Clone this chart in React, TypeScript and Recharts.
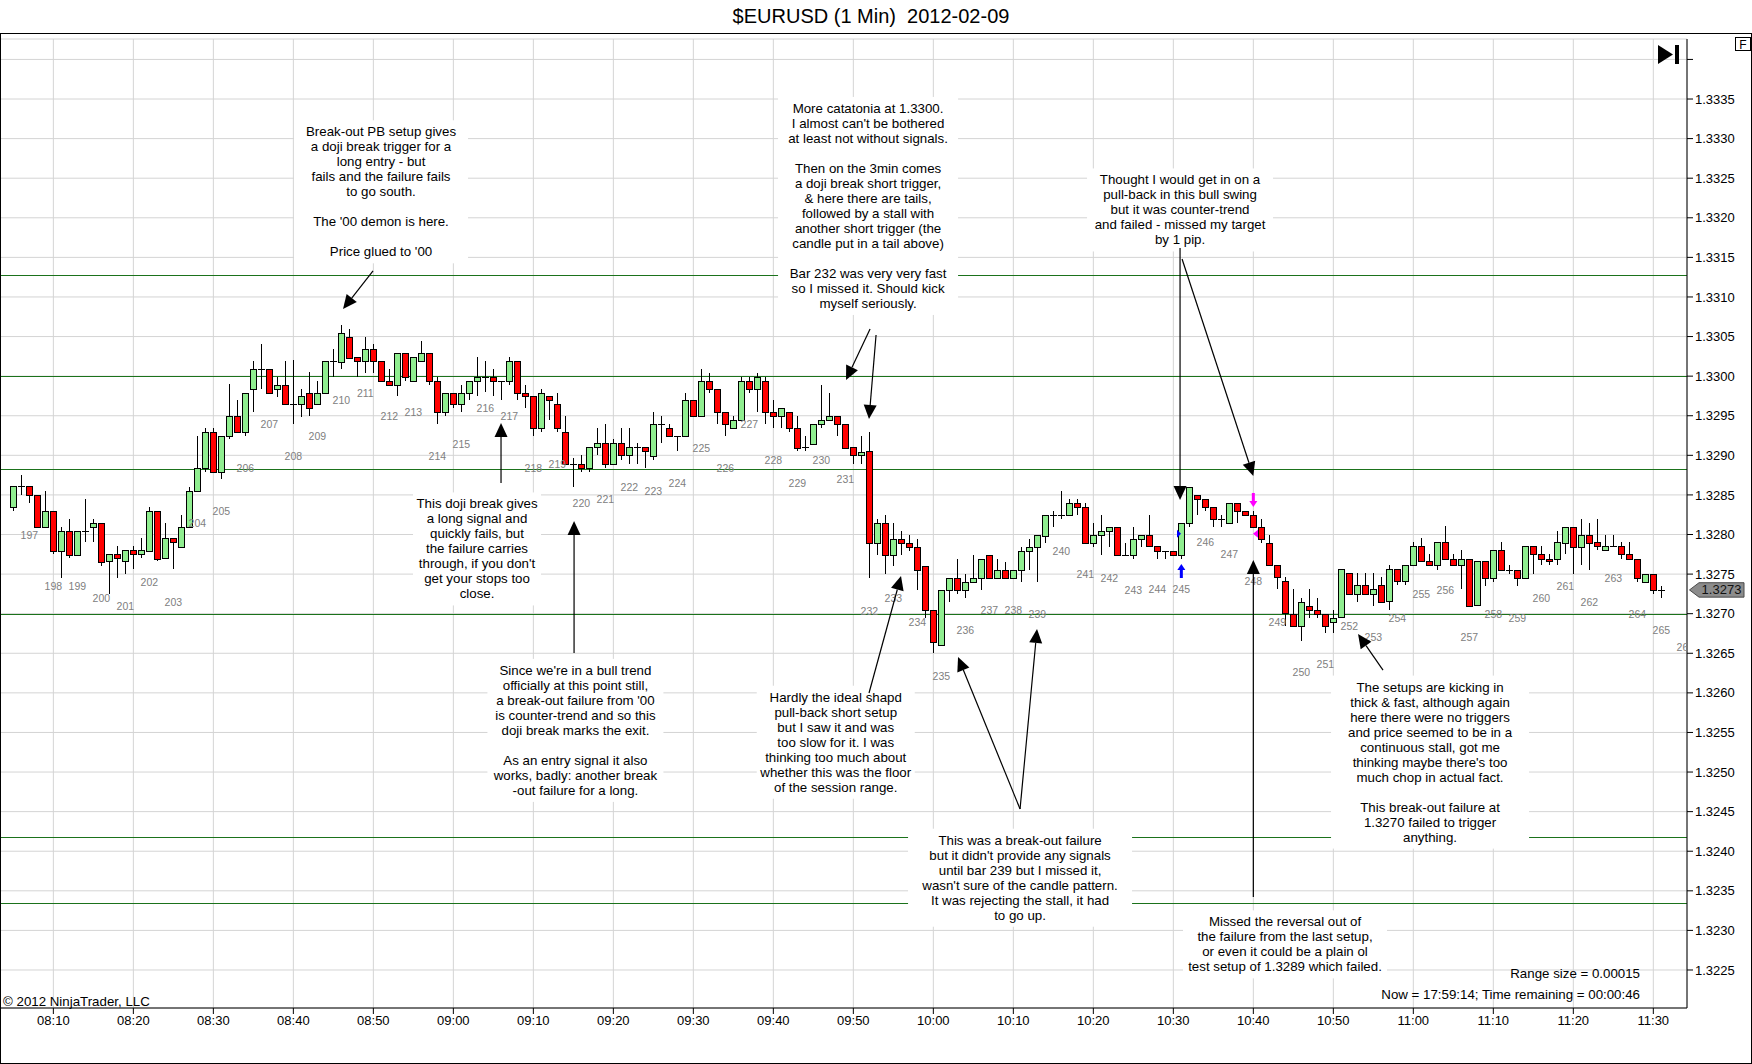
import React from "react";
import {
  Bar,
  CartesianGrid,
  ComposedChart,
  ReferenceDot,
  ReferenceLine,
  Scatter,
  XAxis,
  YAxis,
} from "recharts";

const FONT = '"Liberation Sans", Arial, sans-serif';
const UP = "#90ee90";
const DOWN = "#ff0000";
const LEVEL = "#1b721b";

// 1-minute bars, first bar at 08:05, one bar per minute
const FIRST_BAR_TIME = "08:05";

const opens = [
  1.32835, 1.32861, 1.32861, 1.3285, 1.3281,
  1.3283, 1.3278, 1.32805, 1.32775, 1.32805, 1.3281, 1.32815, 1.32766, 1.32775, 1.32766,
  1.3278, 1.32775, 1.3278, 1.3283, 1.3277, 1.32795, 1.32785, 1.3281, 1.32855, 1.32884,
  1.3293, 1.32879, 1.32925, 1.3295, 1.3293, 1.32984, 1.33009, 1.33009, 1.32984, 1.32989,
  1.32965, 1.32965, 1.32979, 1.32965, 1.32979, 1.33019, 1.33019, 1.3305, 1.33024, 1.33019,
  1.33034, 1.33019, 1.32994, 1.32989, 1.33029, 1.32994, 1.33019, 1.33029, 1.32994, 1.32955,
  1.32979, 1.32965, 1.32979, 1.32994, 1.32999, 1.32999, 1.32994, 1.32994, 1.33019, 1.32979,
  1.32975, 1.32935, 1.32975, 1.32965, 1.3293, 1.32889, 1.32889, 1.32884, 1.3291, 1.32915,
  1.32889, 1.32915, 1.329, 1.3291, 1.3291, 1.329, 1.3294, 1.32935, 1.32925, 1.32925,
  1.3297, 1.3295, 1.32994, 1.32984, 1.32955, 1.32935, 1.32945, 1.32994, 1.32984, 1.32994,
  1.32955, 1.3295, 1.32955, 1.32935, 1.3291, 1.32915, 1.3294, 1.32945, 1.3295, 1.3294,
  1.3291, 1.329, 1.32905, 1.32789, 1.32814, 1.32774, 1.32794, 1.32789, 1.32784, 1.3276,
  1.32705, 1.3266, 1.3273, 1.32745, 1.3273, 1.3274, 1.32745, 1.32774, 1.32745, 1.32755,
  1.32745, 1.32755, 1.32779, 1.32784, 1.32799, 1.32825, 1.32825, 1.32825, 1.3284, 1.32835,
  1.32789, 1.32799, 1.32804, 1.32809, 1.32774, 1.32774, 1.32794, 1.32799, 1.32785, 1.32779,
  1.32779, 1.32774, 1.32815, 1.3285, 1.32845, 1.32835, 1.3282, 1.32815, 1.3284, 1.3283,
  1.32825, 1.3281, 1.32789, 1.32761, 1.32741, 1.327, 1.32685, 1.3271, 1.32705, 1.327,
  1.3269, 1.32695, 1.32751, 1.32725, 1.32736, 1.32725, 1.32736, 1.32715, 1.32756, 1.32741,
  1.32761, 1.32785, 1.32766, 1.32761, 1.3279, 1.32769, 1.32761, 1.32769, 1.3271, 1.32766,
  1.32745, 1.3278, 1.32755, 1.32755, 1.32745, 1.32785, 1.32775, 1.32769, 1.32769, 1.3279,
  1.3281, 1.32785, 1.328, 1.3279, 1.3278, 1.32785, 1.32785, 1.32775, 1.32769, 1.3274,
  1.3275, 1.3273,
];

const highs = [
  1.32861, 1.32875, 1.32861, 1.3285, 1.32855,
  1.3283, 1.3281, 1.3282, 1.32805, 1.32845, 1.3282, 1.32815, 1.32775, 1.32785, 1.3278,
  1.32785, 1.32795, 1.32835, 1.3283, 1.32815, 1.32795, 1.32825, 1.3286, 1.32925, 1.32935,
  1.32935, 1.32925, 1.3299, 1.3297, 1.32979, 1.33019, 1.3304, 1.33009, 1.32999, 1.33019,
  1.3302, 1.32984, 1.33005, 1.32994, 1.33019, 1.33034, 1.33065, 1.3306, 1.33024, 1.3305,
  1.3304, 1.33019, 1.33009, 1.33029, 1.33029, 1.33024, 1.33045, 1.33029, 1.32999, 1.32979,
  1.32979, 1.32989, 1.32994, 1.33024, 1.33019, 1.33009, 1.32994, 1.33024, 1.33019, 1.32989,
  1.32975, 1.32984, 1.32975, 1.32979, 1.3295, 1.32896, 1.329, 1.3291, 1.32935, 1.3294,
  1.3292, 1.32935, 1.32935, 1.32915, 1.3291, 1.32955, 1.3295, 1.3294, 1.32925, 1.32979,
  1.3297, 1.33009, 1.33004, 1.32984, 1.32955, 1.3295, 1.32999, 1.32999, 1.33004, 1.32999,
  1.3297, 1.3296, 1.32955, 1.3295, 1.32925, 1.3294, 1.32989, 1.32979, 1.3295, 1.3294,
  1.3291, 1.32925, 1.32929, 1.3282, 1.32825, 1.32814, 1.32804, 1.32799, 1.32794, 1.3276,
  1.32705, 1.3273, 1.32745, 1.32769, 1.3275, 1.32774, 1.32769, 1.32774, 1.32769, 1.32765,
  1.32755, 1.32784, 1.32794, 1.32799, 1.32825, 1.3283, 1.32855, 1.32845, 1.32845, 1.3284,
  1.32814, 1.32825, 1.32809, 1.32809, 1.32789, 1.32809, 1.32799, 1.32825, 1.32785, 1.32779,
  1.32779, 1.32815, 1.3286, 1.3285, 1.32845, 1.32835, 1.32825, 1.3284, 1.3284, 1.3283,
  1.3283, 1.3282, 1.328, 1.32761, 1.32746, 1.32731, 1.3272, 1.32731, 1.3272, 1.327,
  1.32705, 1.32756, 1.32751, 1.32751, 1.32751, 1.32751, 1.32746, 1.32761, 1.32756, 1.32761,
  1.32791, 1.32795, 1.32775, 1.3279, 1.32811, 1.32775, 1.3278, 1.32769, 1.32766, 1.32766,
  1.3278, 1.3279, 1.32761, 1.32755, 1.32785, 1.32785, 1.32785, 1.32775, 1.32805, 1.3281,
  1.3281, 1.3282, 1.32815, 1.3282, 1.328, 1.328, 1.3279, 1.3279, 1.32769, 1.3275,
  1.3275, 1.32735,
];

const lows = [
  1.3283, 1.3285, 1.3284, 1.3281, 1.3281,
  1.32775, 1.32745, 1.3277, 1.32775, 1.3279, 1.3279, 1.3276, 1.32725, 1.32745, 1.3275,
  1.32756, 1.3277, 1.3278, 1.32766, 1.3277, 1.32756, 1.32785, 1.3281, 1.32855, 1.32879,
  1.32879, 1.3287, 1.3292, 1.3293, 1.32925, 1.32955, 1.32984, 1.32979, 1.32974, 1.32965,
  1.3294, 1.32949, 1.3295, 1.32965, 1.32979, 1.32999, 1.33009, 1.33024, 1.32999, 1.33004,
  1.33004, 1.32994, 1.32989, 1.32975, 1.32994, 1.32994, 1.33019, 1.32989, 1.3294, 1.3295,
  1.3296, 1.32955, 1.3297, 1.32975, 1.3298, 1.32975, 1.3297, 1.32989, 1.3297, 1.3296,
  1.32925, 1.3293, 1.32945, 1.3293, 1.32889, 1.3286, 1.32879, 1.32879, 1.329, 1.32884,
  1.32889, 1.32894, 1.32889, 1.32889, 1.32884, 1.32894, 1.32915, 1.32925, 1.32905, 1.32925,
  1.3295, 1.3295, 1.32979, 1.3294, 1.32925, 1.32935, 1.32945, 1.32979, 1.32955, 1.3294,
  1.32935, 1.32935, 1.3293, 1.32905, 1.32905, 1.32915, 1.32935, 1.32945, 1.32925, 1.3291,
  1.32889, 1.32889, 1.32745, 1.32774, 1.3275, 1.3276, 1.32774, 1.32779, 1.3273, 1.32695,
  1.3265, 1.3266, 1.32715, 1.32725, 1.3272, 1.3274, 1.3273, 1.32745, 1.32745, 1.32745,
  1.32745, 1.3274, 1.32755, 1.3274, 1.32789, 1.32809, 1.3282, 1.32825, 1.32825, 1.32789,
  1.32784, 1.32774, 1.32784, 1.32774, 1.32774, 1.32769, 1.32784, 1.32785, 1.32769, 1.32769,
  1.32774, 1.32769, 1.3281, 1.32825, 1.3283, 1.3281, 1.3281, 1.32815, 1.32815, 1.32825,
  1.3281, 1.32789, 1.32761, 1.32731, 1.32685, 1.32685, 1.32665, 1.32695, 1.32695, 1.32675,
  1.32675, 1.32695, 1.32725, 1.32715, 1.32725, 1.3271, 1.32715, 1.32705, 1.32736, 1.32736,
  1.32761, 1.32766, 1.32761, 1.32755, 1.32769, 1.32761, 1.32731, 1.3271, 1.3271, 1.32735,
  1.3274, 1.32755, 1.3275, 1.32735, 1.32745, 1.3275, 1.32761, 1.32761, 1.32761, 1.32775,
  1.3275, 1.32761, 1.32755, 1.3278, 1.3278, 1.32785, 1.32769, 1.32769, 1.3274, 1.3274,
  1.32725, 1.3272,
];

const closes = [
  1.32861, 1.32861, 1.3285, 1.3281, 1.3283,
  1.3278, 1.32805, 1.32775, 1.32805, 1.32805, 1.32815, 1.32766, 1.32775, 1.3277, 1.3278,
  1.32775, 1.3278, 1.3283, 1.3277, 1.32795, 1.3279, 1.3281, 1.32855, 1.32884, 1.3293,
  1.32879, 1.32925, 1.3295, 1.3293, 1.32979, 1.33009, 1.33009, 1.32979, 1.32989, 1.32965,
  1.32965, 1.32975, 1.3296, 1.32979, 1.33019, 1.33019, 1.33055, 1.33024, 1.33019, 1.33034,
  1.33019, 1.32994, 1.32989, 1.33029, 1.32999, 1.33024, 1.33029, 1.32994, 1.32955, 1.32979,
  1.32965, 1.32979, 1.32994, 1.32999, 1.32999, 1.32994, 1.32994, 1.33019, 1.32979, 1.32975,
  1.32935, 1.32979, 1.3297, 1.32935, 1.32889, 1.32889, 1.32884, 1.3291, 1.32915, 1.32889,
  1.32915, 1.329, 1.3291, 1.3291, 1.32905, 1.3294, 1.3294, 1.32925, 1.32925, 1.3297,
  1.3295, 1.32994, 1.32984, 1.32955, 1.3294, 1.32945, 1.32994, 1.32984, 1.32999, 1.32955,
  1.3295, 1.3296, 1.32935, 1.3291, 1.3291, 1.3294, 1.32945, 1.3295, 1.3294, 1.3291,
  1.329, 1.32904, 1.32789, 1.32814, 1.32774, 1.32794, 1.32789, 1.32784, 1.32755, 1.32705,
  1.32664, 1.3273, 1.32745, 1.3273, 1.3274, 1.32745, 1.32769, 1.32745, 1.32755, 1.32745,
  1.32755, 1.32779, 1.32784, 1.32799, 1.32825, 1.32825, 1.32825, 1.3284, 1.32835, 1.32789,
  1.32799, 1.32804, 1.32809, 1.32774, 1.32774, 1.32794, 1.32799, 1.32785, 1.32779, 1.32779,
  1.32774, 1.32815, 1.3286, 1.32845, 1.32835, 1.3282, 1.3282, 1.3284, 1.3283, 1.32825,
  1.3281, 1.32795, 1.32761, 1.32746, 1.327, 1.32685, 1.32715, 1.32705, 1.327, 1.32685,
  1.32695, 1.32756, 1.32725, 1.32736, 1.32725, 1.32731, 1.32715, 1.32756, 1.32741, 1.32761,
  1.32785, 1.32766, 1.32761, 1.3279, 1.32769, 1.32761, 1.32769, 1.3271, 1.32766, 1.32745,
  1.3278, 1.32755, 1.32755, 1.32745, 1.32785, 1.32775, 1.32769, 1.32766, 1.3279, 1.3281,
  1.32785, 1.328, 1.3279, 1.32785, 1.32785, 1.32785, 1.32775, 1.32769, 1.32745, 1.3275,
  1.3273, 1.3273,
];

// 3-min bar numbers printed under the candles: 197 at 08:07, then every 3 minutes
const FIRST_BAR_NUMBER = 197;
const FIRST_LABEL_TIME = "08:07";
const barNumberPrices = [
  1.328, 1.32735, 1.32735, 1.3272, 1.3271, 1.3274, 1.32715, 1.32815, 1.3283, 1.32884,
  1.3294, 1.32899, 1.32924, 1.3297, 1.32979, 1.3295, 1.32955, 1.32899, 1.32914, 1.3296,
  1.3295, 1.32884, 1.32889, 1.3284, 1.32845, 1.3286, 1.32855, 1.32865, 1.32909, 1.32884,
  1.3294, 1.32894, 1.32865, 1.32894, 1.3287, 1.32704, 1.3272, 1.3269, 1.32621, 1.32679,
  1.32705, 1.32705, 1.327, 1.32779, 1.3275, 1.32745, 1.3273, 1.32731, 1.32731, 1.3279,
  1.32775, 1.32741, 1.3269, 1.32626, 1.32636, 1.32685, 1.3267, 1.32695, 1.32725, 1.3273,
  1.3267, 1.327, 1.32695, 1.3272, 1.32735, 1.32715, 1.32745, 1.327, 1.3268, 1.32658,
];

// horizontal levels drawn on the chart
const levelPrices = [1.33128, 1.33, 1.32883, 1.327, 1.32418, 1.32335];

const timeTicks = [
  "08:10", "08:20", "08:30", "08:40", "08:50", "09:00", "09:10", "09:20", "09:30", "09:40", "09:50",
  "10:00", "10:10", "10:20", "10:30", "10:40", "10:50", "11:00", "11:10", "11:20", "11:30",
];

const priceTicks = [
  1.3225, 1.323, 1.3235, 1.324, 1.3245, 1.325, 1.3255, 1.326, 1.3265, 1.327, 1.3275, 1.328,
  1.3285, 1.329, 1.3295, 1.33, 1.3305, 1.331, 1.3315, 1.332, 1.3325, 1.333, 1.3335, 1.334,
];

// annotations: anchor (time in minutes, price of first text line)
const notes = [
  { t: 530.96, p: 1.333086, w: 174, lines: ["Break-out PB setup gives", "a doji break trigger for a", "long entry - but", "fails and the failure fails", "to go south.", "", "The '00 demon is here.", "", "Price glued to '00"] },
  { t: 591.84, p: 1.333381, w: 180, lines: ["More catatonia at 1.3300.", "I almost can't be bothered", "at least not without signals.", "", "Then on the 3min comes", "a doji break short trigger,", "& here there are tails,", "followed by a stall with", "another short trigger (the", "candle put in a tail above)", "", "Bar 232 was very very fast", "so I missed it. Should kick", "myself seriously."] },
  { t: 630.84, p: 1.332478, w: 186, lines: ["Thought I would get in on a", "pull-back in this bull swing", "but it was counter-trend", "and failed - missed my target", "by 1 pip."] },
  { t: 542.96, p: 1.328386, w: 128, lines: ["This doji break gives", "a long signal and", "quickly fails, but", "the failure carries", "through, if you don't", "get your stops too", "close."] },
  { t: 555.26, p: 1.326284, w: 176, lines: ["Since we're in a bull trend", "officially at this point still,", "a break-out failure from '00", "is counter-trend and so this", "doji break marks the exit.", "", "As an entry signal it also", "works, badly: another break", "-out failure for a long."] },
  { t: 587.8, p: 1.325945, w: 158, lines: ["Hardly the ideal shapd", "pull-back short setup", "but I saw it and was", "too slow for it. I was", "thinking too much about", "whether this was the floor", "of the session range."] },
  { t: 610.84, p: 1.324139, w: 224, lines: ["This was a break-out failure", "but it didn't provide any signals", "until bar 239 but I missed it,", "wasn't sure of the candle pattern.", "It was rejecting the stall, it had", "to go up."] },
  { t: 643.96, p: 1.323108, w: 204, lines: ["Missed the reversal out of", "the failure from the last setup,", "or even it could be a plain ol", "test setup of 1.3289 which failed."] },
  { t: 662.09, p: 1.326073, w: 198, lines: ["The setups are kicking in", "thick & fast, although again", "here there were no triggers", "and price seemed to be in a", "continuous stall, got me", "thinking maybe there's too", "much chop in actual fact.", "", "This break-out failure at", "1.3270 failed to trigger", "anything."] },
];

// arrows: tail (t1, p1) -> head (t2, p2)
const arrows = [
  { t1: 529.96, p1: 1.331328, t2: 526.21, p2: 1.330848 },
  { t1: 545.96, p1: 1.32865, t2: 545.96, p2: 1.329408 },
  { t1: 555.09, p1: 1.326503, t2: 555.09, p2: 1.32817 },
  { t1: 592.09, p1: 1.330595, t2: 589.09, p2: 1.329951 },
  { t1: 592.84, p1: 1.330519, t2: 591.96, p2: 1.329459 },
  { t1: 591.96, p1: 1.325998, t2: 595.96, p2: 1.327476 },
  { t1: 610.84, p1: 1.324533, t2: 603.09, p2: 1.326453 },
  { t1: 610.84, p1: 1.324533, t2: 612.96, p2: 1.326806 },
  { t1: 630.84, p1: 1.331618, t2: 630.84, p2: 1.328436 },
  { t1: 631.09, p1: 1.331479, t2: 640.0, p2: 1.328739 },
  { t1: 640.0, p1: 1.323422, t2: 640.0, p2: 1.327678 },
  { t1: 656.21, p1: 1.326288, t2: 653.09, p2: 1.326743 },
];

// strategy signal markers
const signals = [
  { t: 631, p: 1.327539, kind: "up", color: "#0000ff" },
  { t: 630.71, p: 1.32801, kind: "right", color: "#0000ff" },
  { t: 640, p: 1.328436, kind: "down", color: "#ff00ff" },
  { t: 640.27, p: 1.32801, kind: "left", color: "#ff00ff" },
];

const toMinutes = (s: string) => {
  const [h, m] = s.split(":").map(Number);
  return h * 60 + m;
};
const fmtTime = (m: number) =>
  `${String(Math.floor(m / 60)).padStart(2, "0")}:${String(Math.round(m % 60)).padStart(2, "0")}`;

const firstMinute = toMinutes(FIRST_BAR_TIME);
const candles = opens.map((o, i) => ({
  t: firstMinute + i,
  open: o,
  high: highs[i],
  low: lows[i],
  close: closes[i],
}));

const firstLabelMinute = toMinutes(FIRST_LABEL_TIME);
const barLabels = barNumberPrices.map((p, k) => ({
  t: firstLabelMinute + 3 * k,
  p,
  n: FIRST_BAR_NUMBER + k,
}));

const lastClose = closes[closes.length - 1];

function Candle(props: any) {
  const { x, y, width, height, payload } = props;
  if (!payload || x == null || y == null) return null;
  const { open, high, low, close } = payload;
  const top = Math.min(y, y + height);
  const h = Math.abs(height);
  const span = high - low || 1;
  const py = (v: number) => top + ((high - v) / span) * h;
  const cx = Math.round(x + width / 2);
  const yo = py(open);
  const yc = py(close);
  const wick = (
    <line x1={cx + 0.5} x2={cx + 0.5} y1={top} y2={top + h} stroke="#000" strokeWidth={1} />
  );
  if (Math.abs(open - close) < 0.00002) {
    const yy = Math.round(yo) + 0.5;
    return (
      <g shapeRendering="crispEdges">
        {wick}
        <line x1={cx - 3} x2={cx + 4} y1={yy} y2={yy} stroke="#000" strokeWidth={1} />
      </g>
    );
  }
  const bt = Math.round(Math.min(yo, yc)) + 0.5;
  const bh = Math.max(Math.round(Math.abs(yc - yo)), 1);
  return (
    <g shapeRendering="crispEdges">
      {wick}
      <rect
        x={cx - 2.5}
        y={bt}
        width={6}
        height={bh}
        fill={close > open ? UP : DOWN}
        stroke="#000"
        strokeWidth={1}
      />
    </g>
  );
}

function BarNumber(props: any) {
  const { cx, cy, payload } = props;
  if (cx == null || cy == null) return null;
  return (
    <text x={cx} y={cy} textAnchor="middle" dominantBaseline="central" fontSize={10.5} fill="#808080" fontFamily={FONT}>
      {payload.n}
    </text>
  );
}

function NoteBox({ cx, cy, note }: any) {
  if (cx == null || cy == null) return null;
  const lh = 15;
  const top = cy - lh / 2 - 4;
  const bh = note.lines.length * lh + 8;
  return (
    <g>
      <rect x={cx - note.w / 2} y={top} width={note.w} height={bh} fill="#fff" />
      {note.lines.map((ln: string, i: number) => (
        <text
          key={i}
          x={cx}
          y={cy + i * lh}
          textAnchor="middle"
          dominantBaseline="central"
          fontSize={13.3}
          fill="#000"
          fontFamily={FONT}
        >
          {ln}
        </text>
      ))}
    </g>
  );
}

function Arrow(props: any) {
  const { x1, y1, x2, y2 } = props;
  if ([x1, y1, x2, y2].some((v) => v == null || Number.isNaN(v))) return null;
  const dx = x2 - x1;
  const dy = y2 - y1;
  const len = Math.hypot(dx, dy) || 1;
  const ux = dx / len;
  const uy = dy / len;
  const hl = 14;
  const hw = 6.5;
  const bx = x2 - ux * hl;
  const by = y2 - uy * hl;
  const pts = `${x2},${y2} ${bx - uy * hw},${by + ux * hw} ${bx + uy * hw},${by - ux * hw}`;
  return (
    <g>
      <line x1={x1} y1={y1} x2={bx} y2={by} stroke="#000" strokeWidth={1.2} />
      <polygon points={pts} fill="#000" />
    </g>
  );
}

function LevelLine(props: any) {
  const { x1, x2, y1 } = props;
  if (y1 == null) return null;
  const yy = Math.round(y1) + 0.5;
  return <line x1={x1} x2={x2} y1={yy} y2={yy} stroke={LEVEL} strokeWidth={1} shapeRendering="crispEdges" />;
}

function SignalMark({ cx, cy, sig }: any) {
  if (cx == null || cy == null) return null;
  const c = sig.color;
  if (sig.kind === "up") {
    return (
      <g>
        <polygon points={`${cx},${cy - 7} ${cx - 4},${cy - 1} ${cx + 4},${cy - 1}`} fill={c} />
        <rect x={cx - 1.5} y={cy - 1.5} width={3} height={8.5} fill={c} />
      </g>
    );
  }
  if (sig.kind === "down") {
    return (
      <g>
        <rect x={cx - 1.5} y={cy - 7} width={3} height={8.5} fill={c} />
        <polygon points={`${cx},${cy + 7} ${cx - 4},${cy + 1} ${cx + 4},${cy + 1}`} fill={c} />
      </g>
    );
  }
  if (sig.kind === "right") {
    return <polygon points={`${cx + 2},${cy} ${cx - 2},${cy - 4} ${cx - 2},${cy + 4}`} fill={c} />;
  }
  return <polygon points={`${cx - 2.5},${cy} ${cx + 2.5},${cy - 4} ${cx + 2.5},${cy + 4}`} fill={c} />;
}

function PriceTag(props: any) {
  const { x1, x2, y1 } = props;
  if (y1 == null) return null;
  const xr = Math.max(x1, x2);
  const y = y1;
  const pts = `${xr + 2.5},${y} ${xr + 12},${y - 7.2} ${xr + 57},${y - 7.2} ${xr + 57},${y + 7.2} ${xr + 12},${y + 7.2}`;
  return (
    <g>
      <polygon points={pts} fill="#8c8c8c" stroke="#4a4a4a" strokeWidth={1} />
      <text x={xr + 34.5} y={y} textAnchor="middle" dominantBaseline="central" fontSize={13} fill="#111" fontFamily={FONT}>
        {lastClose.toFixed(4)}
      </text>
    </g>
  );
}

export default function App() {
  return (
    <div
      style={{
        position: "absolute",
        left: 0,
        top: 0,
        width: 1752,
        height: 1064,
        background: "#fff",
        fontFamily: FONT,
        overflow: "hidden",
      }}
    >
      <div style={{ position: "absolute", left: 0, top: 0 }}>
        <ComposedChart
          width={1752}
          height={1064}
          data={candles}
          margin={{ top: 39, right: 0, bottom: 0, left: 0 }}
        >
          <CartesianGrid stroke="#d4d4d4" />
          <XAxis
            dataKey="t"
            type="number"
            domain={[483.33, 694.21]}
            allowDataOverflow
            ticks={timeTicks.map(toMinutes)}
            tickFormatter={fmtTime}
            interval={0}
            height={56}
            tickSize={6}
            tickMargin={2}
            tick={{ fontSize: 13, fill: "#000", fontFamily: FONT }}
            axisLine={{ stroke: "#000" }}
            tickLine={{ stroke: "#000" }}
          />
          <YAxis
            orientation="right"
            type="number"
            domain={[1.32202, 1.334258]}
            allowDataOverflow
            ticks={priceTicks}
            tickFormatter={(v: number) => (v > 1.33395 ? "" : v.toFixed(4))}
            interval={0}
            width={65}
            tickSize={6}
            tickMargin={2}
            tick={{ fontSize: 13, fill: "#000", fontFamily: FONT }}
            axisLine={{ stroke: "#000" }}
            tickLine={{ stroke: "#000" }}
          />
          {levelPrices.map((lv) => (
            <ReferenceLine
              key={`lv${lv}`}
              y={lv}
              stroke={LEVEL}
              zIndex={150}
              shape={(p: any) => <LevelLine {...p} />}
            />
          ))}
          <Bar
            dataKey={(d: any) => [d.low, d.high]}
            barSize={7}
            shape={(p: any) => <Candle {...p} />}
            isAnimationActive={false}
          />
          <Scatter
            data={barLabels}
            dataKey="p"
            shape={(p: any) => <BarNumber {...p} />}
            isAnimationActive={false}
          />
          {notes.map((n, i) => (
            <ReferenceDot
              key={`note${i}`}
              x={n.t}
              y={n.p}
              r={0}
              ifOverflow="visible"
              zIndex={650}
              shape={(p: any) => <NoteBox cx={p.cx} cy={p.cy} note={n} />}
            />
          ))}
          {arrows.map((a, i) => (
            <ReferenceLine
              key={`arr${i}`}
              segment={[
                { x: a.t1, y: a.p1 },
                { x: a.t2, y: a.p2 },
              ]}
              ifOverflow="visible"
              zIndex={700}
              shape={(p: any) => <Arrow {...p} />}
            />
          ))}
          {signals.map((s, i) => (
            <ReferenceDot
              key={`sig${i}`}
              x={s.t}
              y={s.p}
              r={0}
              ifOverflow="visible"
              zIndex={700}
              shape={(p: any) => <SignalMark cx={p.cx} cy={p.cy} sig={s} />}
            />
          ))}
          <ReferenceLine
            y={lastClose}
            stroke="none"
            ifOverflow="visible"
            zIndex={700}
            shape={(p: any) => <PriceTag {...p} />}
          />
        </ComposedChart>
      </div>

      <div
        style={{
          position: "absolute",
          left: 0,
          top: 6,
          width: 1742,
          textAlign: "center",
          fontSize: 20,
          lineHeight: "21px",
          whiteSpace: "pre",
          color: "#000",
        }}
      >
        {"$EURUSD (1 Min)  2012-02-09"}
      </div>
      <div style={{ position: "absolute", left: 0, top: 33, width: 1752, height: 1, background: "#000" }} />

      <svg style={{ position: "absolute", left: 0, top: 0 }} width={1752} height={1064}>
        <polygon points="1658,45 1658,64 1673,54.5" fill="#000" />
        <rect x={1675} y={45} width={4} height={19} fill="#000" />
        <rect x={1735.5} y={37.5} width={15} height={13} fill="#fff" stroke="#000" />
        <text x={1743} y={44.5} textAnchor="middle" dominantBaseline="central" fontSize={12} fontFamily={FONT}>
          F
        </text>
        <text x={3} y={1001} dominantBaseline="central" fontSize={13.3} fontFamily={FONT}>
          © 2012 NinjaTrader, LLC
        </text>
        <text x={1640} y={973} textAnchor="end" dominantBaseline="central" fontSize={13.3} fontFamily={FONT}>
          Range size = 0.00015
        </text>
        <text x={1640} y={994} textAnchor="end" dominantBaseline="central" fontSize={13.3} fontFamily={FONT}>
          Now = 17:59:14; Time remaining = 00:00:46
        </text>
        <line x1={0.5} y1={33} x2={0.5} y2={1063.5} stroke="#000" />
        <line x1={1751.5} y1={33} x2={1751.5} y2={1063.5} stroke="#000" />
        <line x1={0} y1={1063.5} x2={1752} y2={1063.5} stroke="#000" />
      </svg>
    </div>
  );
}
